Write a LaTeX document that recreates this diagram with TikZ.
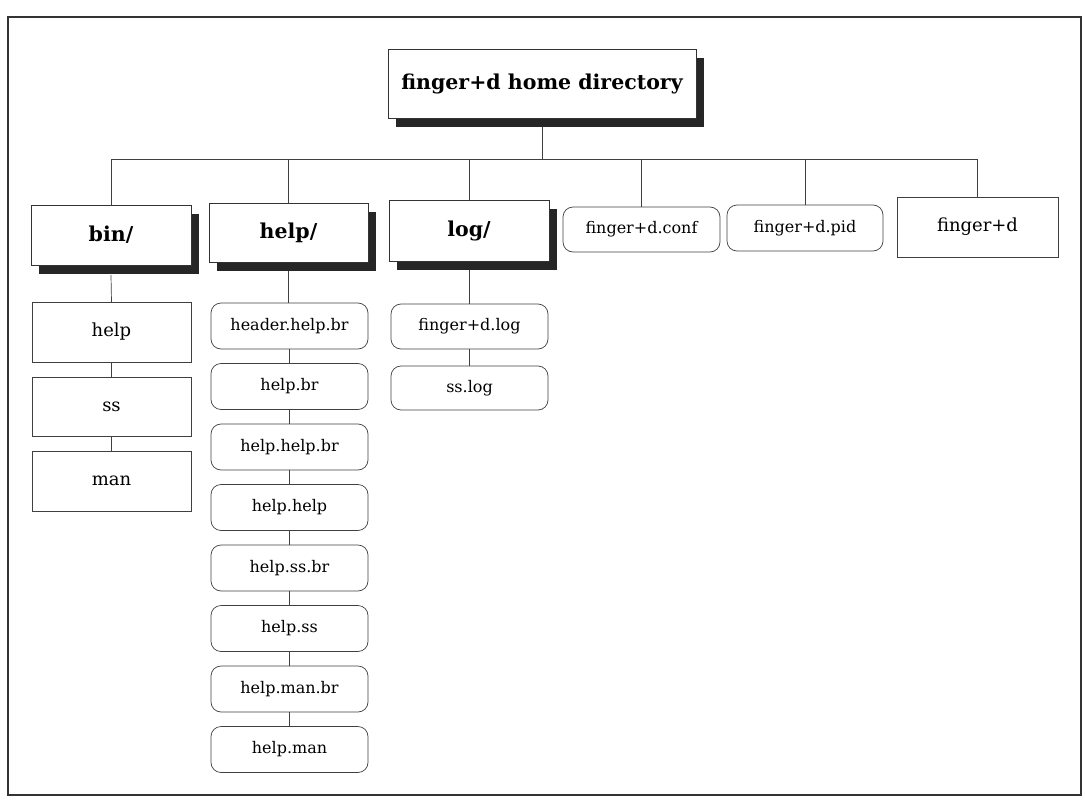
\documentclass[tikz,border=0pt]{standalone}
\usepackage{fontspec}
\setmainfont{DejaVu Serif}
\usetikzlibrary{shadows}
\tikzset{
  every node/.style={inner sep=0pt, outer sep=0pt},
  dirbox/.style={draw=black!80, line width=0.8pt, fill=white, rectangle,
    font=\fontsize{20.5}{24}\selectfont\bfseries,
    drop shadow={shadow xshift=8pt, shadow yshift=-9pt, fill=black!85, opacity=1}},
  filebox/.style={draw=black!75, line width=0.7pt, fill=white, rectangle,
    font=\fontsize{18}{21}\selectfont},
  roundfile/.style={draw=black!75, line width=0.7pt, fill=white, rectangle, rounded corners=10pt,
    font=\fontsize{16}{19}\selectfont},
  conn/.style={draw=black!75, line width=0.7pt},
  frame/.style={draw=black!80, line width=2.2pt}
}
\begin{document}
\begin{tikzpicture}[x=1pt, y=-1pt]
\useasboundingbox (0,0) rectangle (1085,803);
\draw[frame] (8,17) rectangle (1081,795);

\coordinate (busy) at (0,159);

% root
\node[dirbox, minimum width=308pt, minimum height=69pt] (root) at (542,83.5) {finger+d home directory};

% top-level
\node[dirbox, minimum width=160pt, minimum height=60pt] (bin) at (111,235) {bin/};
\node[dirbox, minimum width=159pt, minimum height=59pt] (help) at (288.5,232.5) {help/};
\node[dirbox, minimum width=160pt, minimum height=61pt] (log) at (469,230.5) {log/};
\node[roundfile, minimum width=157pt, minimum height=45pt] (conf) at (641.5,229.5) {finger+d.conf};
\node[roundfile, minimum width=156pt, minimum height=46pt] (pid) at (805,228) {finger+d.pid};
\node[filebox, minimum width=161pt, minimum height=60pt] (fd) at (977.5,227) {finger+d};

% bin children
\node[filebox, minimum width=159pt, minimum height=60pt] (bhelp) at (111.5,332) {help};
\node[filebox, minimum width=159pt, minimum height=59pt] (bss) at (111.5,406.5) {ss};
\node[filebox, minimum width=159pt, minimum height=60pt] (bman) at (111.5,481) {man};

% help children
\node[roundfile, minimum width=157pt, minimum height=46pt] (h1) at (289.5,326) {header.help.br};
\node[roundfile, minimum width=157pt, minimum height=46pt] (h2) at (289.5,386.5) {help.br};
\node[roundfile, minimum width=157pt, minimum height=46pt] (h3) at (289.5,447) {help.help.br};
\node[roundfile, minimum width=157pt, minimum height=46pt] (h4) at (289.5,507.5) {help.help};
\node[roundfile, minimum width=157pt, minimum height=46pt] (h5) at (289.5,568) {help.ss.br};
\node[roundfile, minimum width=157pt, minimum height=46pt] (h6) at (289.5,628.5) {help.ss};
\node[roundfile, minimum width=157pt, minimum height=46pt] (h7) at (289.5,689) {help.man.br};
\node[roundfile, minimum width=157pt, minimum height=46pt] (h8) at (289.5,749.5) {help.man};

% log children
\node[roundfile, minimum width=157pt, minimum height=45pt] (l1) at (469.5,326.5) {finger+d.log};
\node[roundfile, minimum width=157pt, minimum height=44pt] (l2) at (469.5,388) {ss.log};

% connectors
\draw[conn] ([yshift=-9pt]root.south) -- (root.south |- busy);
\draw[conn] (bin.north |- busy) -- (fd.north |- busy);
\foreach \n in {bin,help,log,conf,pid,fd} {
  \draw[conn] (\n.north |- busy) -- (\n.north);
}
\draw[conn] ([yshift=-10pt]bin.south) -- (bhelp.north);
\draw[conn] (bhelp.south) -- (bss.north);
\draw[conn] (bss.south) -- (bman.north);
\draw[conn] ([yshift=-9pt]help.south) -- (help.south |- h1.north);
\draw[conn] (h1.south) -- (h1.south |- h2.north);
\draw[conn] (h2.south) -- (h2.south |- h3.north);
\draw[conn] (h3.south) -- (h3.south |- h4.north);
\draw[conn] (h4.south) -- (h4.south |- h5.north);
\draw[conn] (h5.south) -- (h5.south |- h6.north);
\draw[conn] (h6.south) -- (h6.south |- h7.north);
\draw[conn] (h7.south) -- (h7.south |- h8.north);
\draw[conn] ([yshift=-9pt]log.south) -- (log.south |- l1.north);
\draw[conn] (l1.south) -- (l1.south |- l2.north);
\end{tikzpicture}
\end{document}
